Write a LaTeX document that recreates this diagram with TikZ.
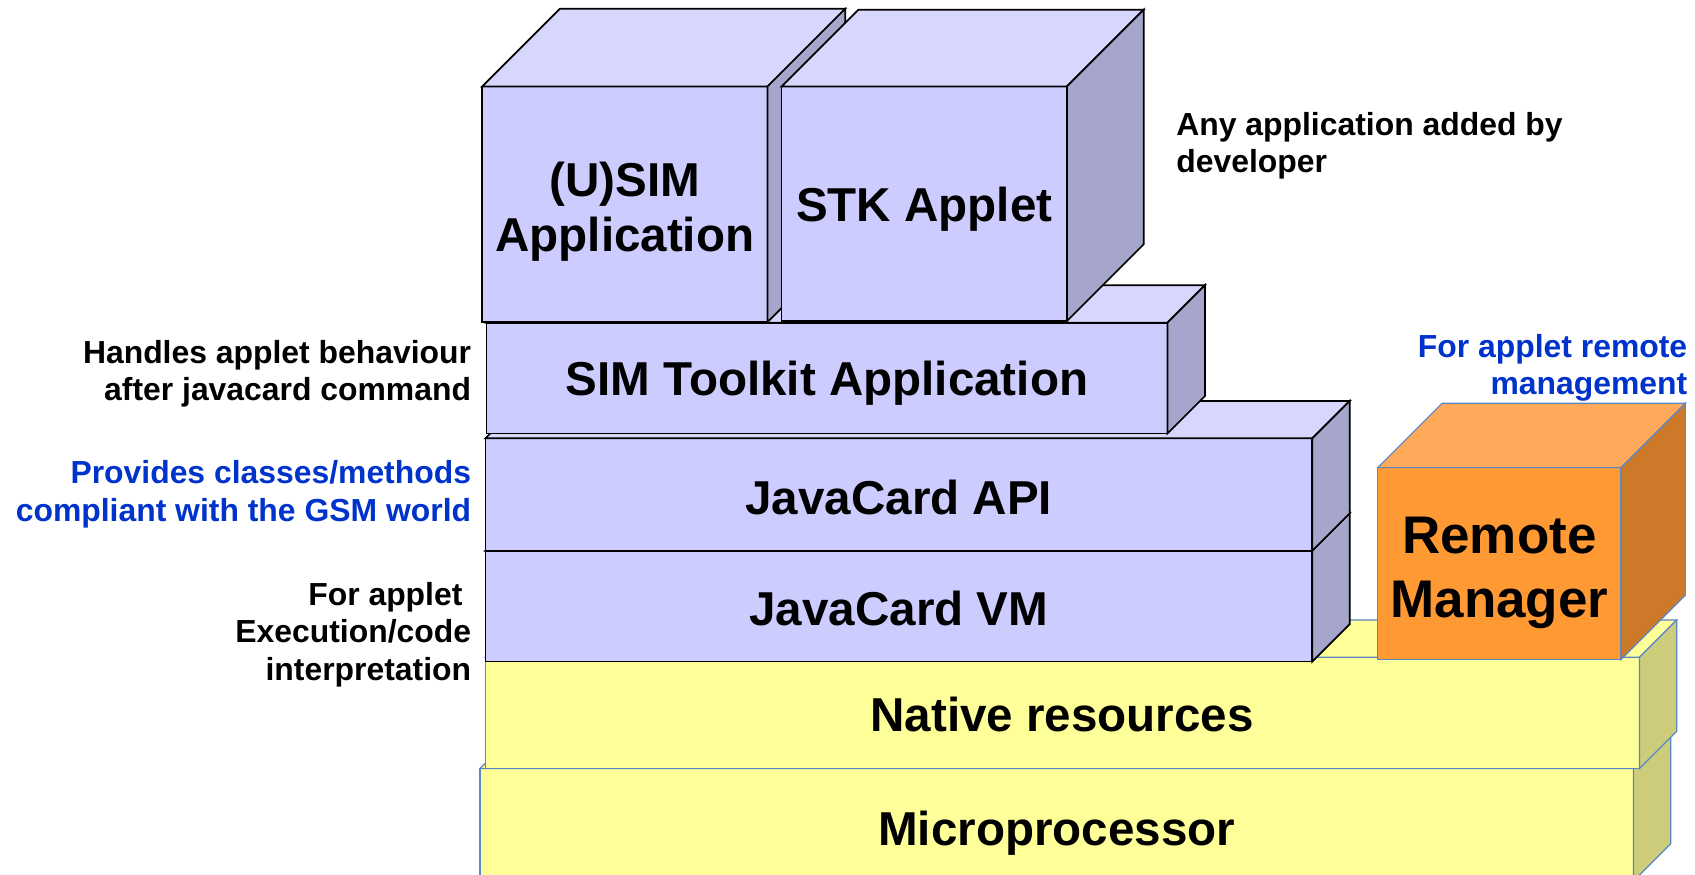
\documentclass[tikz,border=0pt]{standalone}
\usepackage{fontspec}
\setmainfont{Liberation Sans}
\definecolor{lavF}{HTML}{CCCCFF}
\definecolor{lavT}{HTML}{D7D7FE}
\definecolor{lavS}{HTML}{A6A6CC}
\definecolor{yelF}{HTML}{FFFF99}
\definecolor{yelT}{HTML}{FFFF99}
\definecolor{yelS}{HTML}{CCCC7A}
\definecolor{orgF}{HTML}{FF9933}
\definecolor{orgT}{HTML}{FFAA5A}
\definecolor{orgS}{HTML}{CC7A2A}
\definecolor{edgeblue}{HTML}{5A87C5}
\definecolor{txtblue}{HTML}{0033CC}
\newcommand{\drawblock}[9]{%
  \filldraw[#9,fill=#6] (#1,#2) rectangle (#3,#4);
  \filldraw[#9,fill=#7] (#1,#2) -- (#1+#5,#2-#5) -- (#3+#5,#2-#5) -- (#3,#2) -- cycle;
  \filldraw[#9,fill=#8] (#3,#2) -- (#3+#5,#2-#5) -- (#3+#5,#4-#5) -- (#3,#4) -- cycle;
}
\tikzset{
  blackedge/.style={draw=black, line width=1.6pt, line join=miter},
  blueedge/.style={draw=edgeblue, line width=1.1pt, line join=miter},
  boxlbl/.style={font=\fontsize{44}{51}\selectfont\bfseries, inner sep=0pt, anchor=base},
  rmlbl/.style={font=\fontsize{49}{59}\selectfont\bfseries, inner sep=0pt, anchor=base},
  sidelbl/.style={font=\fontsize{29.5}{35}\selectfont\bfseries, inner sep=0pt},
  bluelbl/.style={sidelbl, text=txtblue}
}
\begin{document}
\begin{tikzpicture}[x=1pt,y=-1pt]
\clip (0,0) rectangle (1568,809);
\fill[white] (0,0) rectangle (1568,809);
% bottom layers
\drawblock{444}{711}{1511}{815}{34.5}{yelF}{yelT}{yelS}{blueedge}
\drawblock{449}{608}{1516.6}{711}{34.5}{yelF}{yelT}{yelS}{blueedge}
% remote manager
\drawblock{1274.5}{432.6}{1499.6}{610}{59.5}{orgF}{orgT}{orgS}{blueedge}
% javacard layers
\drawblock{449}{509.4}{1214}{612}{34.6}{lavF}{lavT}{lavS}{blackedge}
\drawblock{449}{405.5}{1214}{509.4}{34.6}{lavF}{lavT}{lavS}{blackedge}
\drawblock{450}{298.5}{1080}{401}{34.6}{lavF}{lavT}{lavS}{blackedge}
% applications
\drawblock{446}{80}{710}{298}{72}{lavF}{lavT}{lavS}{blackedge}
\drawblock{723}{80}{987}{297}{71}{lavF}{lavT}{lavS}{blackedge}
% box labels
\node[boxlbl] (usim1) at (578,182) {(U)SIM};
\node[boxlbl] (usim2) at (578,233) {Application};
\node[boxlbl] (stk) at (855,205) {STK Applet};
\node[boxlbl] (sta) at (765,366) {SIM Toolkit Application};
\node[boxlbl] (api) at (831.5,476) {JavaCard API};
\node[boxlbl] (vm) at (831.5,579) {JavaCard VM};
\node[boxlbl] (nat) at (982.5,677) {Native resources};
\node[boxlbl] (mic) at (977.5,782) {Microprocessor};
\node[rmlbl] (rm1) at (1387,512) {Remote};
\node[rmlbl] (rm2) at (1387,571) {Manager};
% side labels
\node[sidelbl, anchor=base east] (h1) at (436,336) {Handles applet behaviour};
\node[sidelbl, anchor=base east] (h2) at (436,370.5) {after javacard command};
\node[bluelbl, anchor=base east] (p1) at (436,447) {Provides classes/methods};
\node[bluelbl, anchor=base east] (p2) at (436,482.5) {compliant with the GSM world};
\node[sidelbl, anchor=base east] (f1) at (436,559.7) {For applet\kern8pt};
\node[sidelbl, anchor=base east] (f2) at (436,594.5) {Execution/code};
\node[sidelbl, anchor=base east] (f3) at (436,629.7) {interpretation};
\node[sidelbl, anchor=base west] (a1) at (1088,125) {Any application added by};
\node[sidelbl, anchor=base west] (a2) at (1088,159.5) {developer};
\node[bluelbl, anchor=base east] (r1) at (1561,330.5) {For applet remote};
\node[bluelbl, anchor=base east] (r2) at (1561,364.5) {management};
\end{tikzpicture}
\end{document}
